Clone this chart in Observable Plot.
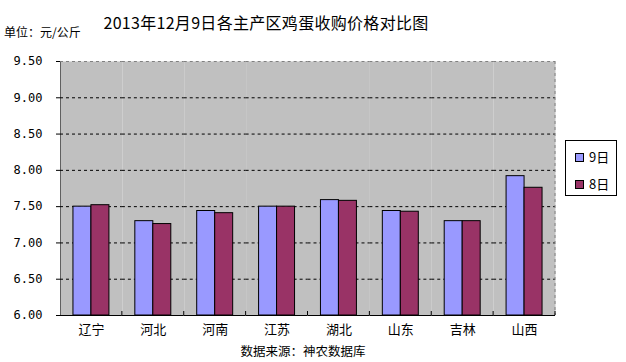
<!DOCTYPE html>
<html>
<head>
<meta charset="utf-8">
<script src="https://cdn.jsdelivr.net/npm/d3@7"></script>
<script src="https://cdn.jsdelivr.net/npm/@observablehq/plot@0.6"></script>
<style>
  body { margin: 0; background: #fff; }
  #wrap { position: relative; width: 626px; height: 362px; overflow: hidden; font-family: "Noto Sans CJK SC", sans-serif; }
  #chart { position: absolute; left: 0; top: 0; }
  #title { position: absolute; left: 0; width: 532px; top: 10px; text-align: center; font-size: 16px; letter-spacing: 0.3px; color: #000; line-height: 24px; }
  #unit { position: absolute; left: 4px; top: 23px; font-size: 12px; color: #000; line-height: 18px; }
  #caption { position: absolute; left: 0; width: 606px; top: 342px; text-align: center; font-size: 12.5px; color: #000; line-height: 18px; }
  #legend { position: absolute; left: 565px; top: 140px; width: 50px; height: 54px; border: 1px solid #000; background: #fff; }
  .li { position: absolute; left: 9px; font-size: 13px; line-height: 16px; display: flex; align-items: center; }
  .sw { width: 7px; height: 7px; border: 1px solid #000; margin-right: 5px; }
  svg [aria-label^="y-axis"] text { font-family: "DejaVu Sans Mono", monospace; font-size: 12px; }
</style>
</head>
<body>
<div id="wrap">
  <div id="chart"></div>
  <div id="title">2013年12月9日各主产区鸡蛋收购价格对比图</div>
  <div id="unit">单位：元/公斤</div>
  <div id="legend"></div>
  <div id="caption">数据来源：神农数据库</div>
</div>
<script>
const regions = ["辽宁", "河北", "河南", "江苏", "湖北", "山东", "吉林", "山西"];
const seriesNames = ["9日", "8日"];
const day9 = [7.50, 7.30, 7.44, 7.50, 7.59, 7.44, 7.30, 7.92];
const day8 = [7.52, 7.26, 7.41, 7.50, 7.58, 7.43, 7.30, 7.76];
const yTicks = [6.00, 6.50, 7.00, 7.50, 8.00, 8.50, 9.00, 9.50];
const colors = ["#9999FF", "#993366"];

const data = regions.flatMap((r, i) => [
  {region: r, series: seriesNames[0], value: day9[i]},
  {region: r, series: seriesNames[1], value: day8[i]}
]);

const yMin = yTicks[0], yMax = yTicks[yTicks.length - 1];

const chart = Plot.plot({
  width: 626,
  height: 362,
  marginLeft: 60,
  marginRight: 71,
  marginTop: 61,
  marginBottom: 47,
  style: {background: "transparent", fontFamily: "'Noto Sans CJK SC', sans-serif", fontSize: "13px", color: "#000"},
  fx: {domain: regions, padding: 0, round: false, label: null, tickSize: 0, tickPadding: 9, axis: "bottom"},
  x: {domain: seriesNames, paddingInner: 0, paddingOuter: 0.72, round: false, axis: null},
  y: {domain: [yMin, yMax], ticks: yTicks, tickFormat: d => d.toFixed(2), label: null, tickSize: 4, tickPadding: 14, clamp: true, line: true},
  color: {domain: seriesNames, range: colors},
  marks: [
    Plot.frame({fill: "#C0C0C0", stroke: null}),
    Plot.ruleY(yTicks.slice(1, -1), {stroke: "#000", strokeDasharray: "3,3", strokeWidth: 1}),
    Plot.ruleY([yMax], {stroke: "#808080", strokeDasharray: "3,3", strokeWidth: 1}),
    Plot.barY(data, {fx: "region", x: "series", y: "value", fill: "series", stroke: "#000", strokeWidth: 1}),
    Plot.ruleY([yMin], {stroke: "#000", strokeWidth: 1})
  ]
});
document.getElementById("chart").appendChild(chart);

// extra frame details positioned from Plot's own scales
(function addExtras() {
  const fxS = chart.scale("fx");
  const yS = chart.scale("y");
  const bottom = yS.apply(yMin);
  const top = yS.apply(yMax);
  const [r0, r1] = fxS.range;
  const bw = fxS.bandwidth != null ? fxS.bandwidth : (r1 - r0) / regions.length;
  const svg = d3.select(chart.tagName.toLowerCase() === "svg" ? chart : chart.querySelector("svg"));
  const g = svg.append("g");
  const right = fxS.apply(regions[regions.length - 1]) + bw;
  g.append("line").attr("x1", right).attr("x2", right).attr("y1", top).attr("y2", bottom)
    .attr("stroke", "#808080").attr("stroke-dasharray", "3,3");
  regions.forEach(r => {
    const xb = fxS.apply(r) + bw;
    g.append("line").attr("x1", xb).attr("x2", xb).attr("y1", bottom - 4).attr("y2", bottom).attr("stroke", "#000");
  });
})();

const legend = document.getElementById("legend");
seriesNames.forEach((s, i) => {
  const item = document.createElement("div");
  item.className = "li";
  item.style.top = (8 + i * 27) + "px";
  const sw = document.createElement("div");
  sw.className = "sw";
  sw.style.background = colors[i];
  const t = document.createElement("span");
  t.textContent = s;
  item.appendChild(sw);
  item.appendChild(t);
  legend.appendChild(item);
});
</script>
</body>
</html>
